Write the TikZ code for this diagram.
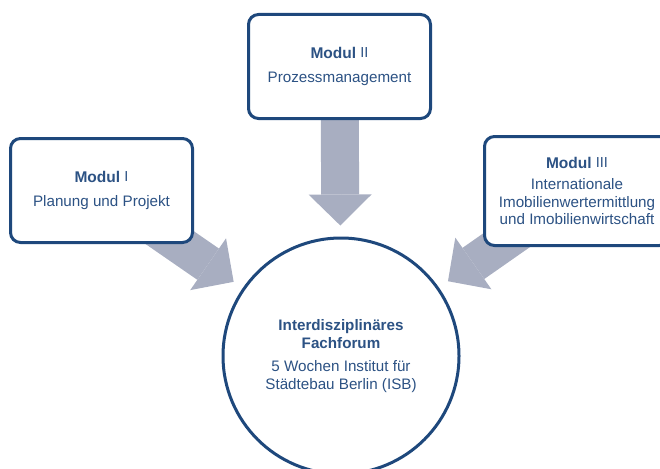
\documentclass[tikz,border=0pt]{standalone}
\usepackage{fontspec}
\setmainfont{Liberation Sans}
\usetikzlibrary{arrows.meta, backgrounds}
\definecolor{modblue}{RGB}{30,72,124}
\definecolor{txtblue}{RGB}{44,82,132}
\definecolor{arrgray}{RGB}{168,174,193}
\newcommand{\modtitle}[1]{\textbf{\fontsize{15.5}{17.5}\selectfont Modul}
  \raisebox{1pt}{\fontsize{14.5}{15}\selectfont #1}}

\begin{document}
\begin{tikzpicture}[x=1pt,y=-1pt,
    box/.style={draw=modblue,line width=3pt,rounded corners=10pt,fill=white,
      text=txtblue,align=center,minimum width=182pt,minimum height=104pt,
      font=\fontsize{15.2}{17.5}\selectfont},
    arj/.style={arrgray,line width=38pt,shorten >=11pt,
      -{Triangle[length=31pt,width=63pt,line width=0pt]}}]
  \useasboundingbox (0,0) rectangle (660,468);
  \node(forum)[box,circle,minimum size=236pt] at (341,356)
    {\textbf{Interdisziplinäres}\\\textbf{Fachforum}\\[6pt]
     5 Wochen Institut für\\Städtebau Berlin (ISB)};
  \node(mod1)[box] at (101.5,190.5) {\modtitle{I}\\[6pt]Planung und Projekt};
  \node(mod2)[box] at (339.5,66.5) {\modtitle{II}\\[6pt]Prozessmanagement};
  \node(mod3)[box,minimum width=185pt,minimum height=109pt] at (577,191)
    {\modtitle{III}\\[4pt]Internationale\\Imobilienwertermittlung\\und Imobilienwirtschaft};
  \begin{scope}[on background layer]
   \draw[arj] (mod1.center) -- (forum);
   \draw[arj] (mod2.center) -- (forum);
   \draw[arj] (mod3.center) -- (forum);
  \end{scope}
\end{tikzpicture}
\end{document}
